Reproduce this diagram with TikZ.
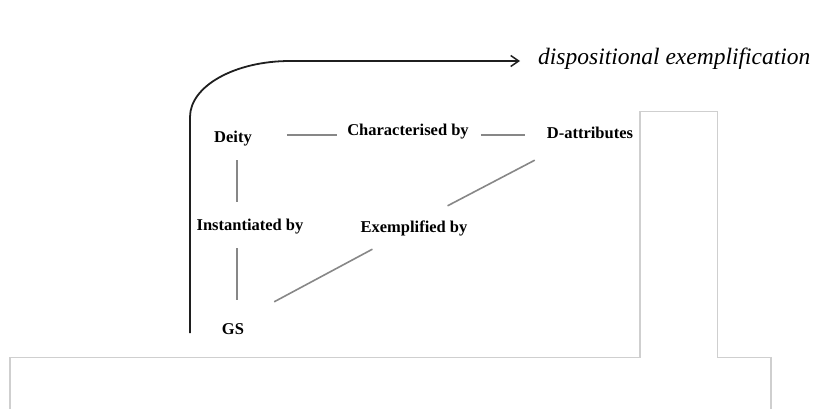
\documentclass[tikz,border=0pt]{standalone}
\usepackage{fontspec}
\setmainfont{Liberation Serif}
\usetikzlibrary{arrows.meta}
\begin{document}
\begin{tikzpicture}[x=1pt, y=-1pt,
  label/.style={inner sep=0pt, text height=11.5pt, text depth=3.5pt,
    font=\fontsize{16.5}{18}\selectfont\bfseries, text=black},
  link/.style={draw=black!47, line width=1.6pt},
  flow/.style={draw=black!88, line width=1.8pt,
    -{Straight Barb[length=8pt,width=11pt,line width=1.5pt]}},
  frame/.style={draw=black!19, line width=1.2pt}
]
\useasboundingbox (0,0) rectangle (820,409);

% page outline behind the figure
\draw[frame] (10,409) -- (10,357.5) -- (640,357.5) -- (640,111.5)
  -- (717.5,111.5) -- (717.5,357.5) -- (771,357.5) -- (771,409);

% labels
\node[label, anchor=base] (deity) at (233,143) {Deity};
\node[label, anchor=base] (char)  at (408,136) {Characterised by};
\node[label, anchor=base] (datt)  at (590,139) {D-attributes};
\node[label, anchor=base] (inst)  at (250,230) {Instantiated by};
\node[label, anchor=base] (exem)  at (414,233) {Exemplified by};
\node[label, anchor=base] (gs)    at (233,334) {GS};
\node[inner sep=0pt, text height=14pt, text depth=6pt, anchor=base west,
  font=\fontsize{23.5}{26}\selectfont\itshape] (disp) at (538,65)
  {dispositional exemplification};

% relations
\draw[link] ([shift={(35,-4)}]deity.east) -- ([shift={(-10,3)}]char.west);
\draw[link] ([shift={(12,3)}]char.east) -- ([shift={(-22,0)}]datt.west);
\draw[link] ([shift={(3.7,13.5)}]deity.south) -- ([shift={(-13.3,-16.5)}]inst.north);
\draw[link] ([shift={(-13.3,14.5)}]inst.south) -- ([shift={(3.7,-22.5)}]gs.north);
\draw[link] ([shift={(30,-20.5)}]gs.north east) -- ([shift={(12,12.5)}]exem.south west);
\draw[link] ([shift={(-20,-15.5)}]exem.north east) -- ([shift={(-12,17.5)}]datt.south west);

% the curved arrow towards dispositional exemplification
\coordinate (foot) at (190,333);
\draw[flow] (foot) -- (190,117) .. controls (190,86) and (235,61) .. (290,61)
  -- ([xshift=-18pt]disp.west);
\end{tikzpicture}
\end{document}
